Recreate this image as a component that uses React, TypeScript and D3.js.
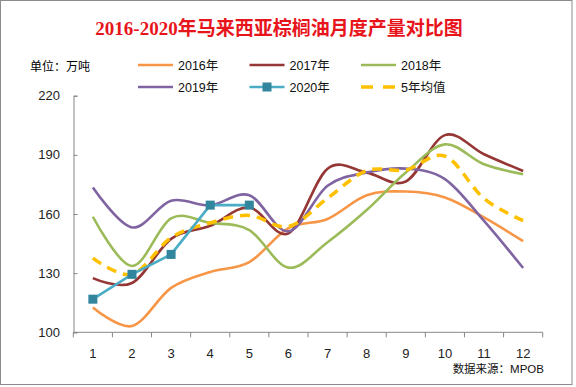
import { useEffect, useRef } from 'react';
import * as d3 from 'd3';

const months = ['1', '2', '3', '4', '5', '6', '7', '8', '9', '10', '11', '12'];
const yTicks = [100, 130, 160, 190, 220];

const y2016 = [112.6, 103.2, 122.5, 130.6, 135.6, 152.8, 157.5, 169.5, 171.4, 168.4, 158.3, 146.2];
const y2017 = [127.5, 125.0, 147.4, 154.0, 163.3, 150.2, 183.0, 181.0, 176.5, 200.0, 190.3, 181.8];
const y2018 = [158.6, 133.6, 157.8, 155.5, 151.8, 132.8, 145.7, 162.0, 181.0, 195.3, 185.2, 180.2];
const y2019 = [173.4, 153.2, 166.7, 164.4, 169.5, 151.2, 174.3, 181.0, 183.0, 177.7, 156.5, 132.6];
const y2020 = [116.8, 129.4, 139.5, 164.5, 164.5];
const yAvg = [137.6, 129.4, 148.0, 155.5, 159.3, 153.6, 168.0, 182.0, 182.3, 189.4, 167.8, 156.6];

const font = '"Liberation Sans", "Noto Sans CJK SC", sans-serif';

export default function App() {
  const svgRef = useRef<SVGSVGElement>(null);

  useEffect(() => {
    if (!svgRef.current) return;
    const svg = d3.select(svgRef.current);
    svg.selectAll('*').remove();

    const x = d3.scaleBand().domain(months).range([73.3, 542.7]);
    const y = d3.scaleLinear().domain([100, 220]).range([332.3, 95.7]);
    const cx = (i: number) => (x(months[i]) as number) + x.bandwidth() / 2;

    // frame
    svg.append('rect')
      .attr('x', 0.5).attr('y', 0.5)
      .attr('width', 571.5).attr('height', 384)
      .attr('fill', '#fff').attr('stroke', '#8c8c8c');

    svg.append('text')
      .attr('x', 279).attr('y', 35)
      .attr('text-anchor', 'middle')
      .style('font-family', '"Liberation Serif", "DejaVu Serif", "Noto Sans CJK SC", serif')
      .style('font-weight', 'bold')
      .style('font-size', '19px')
      .attr('fill', '#e8141b')
      .text('2016-2020年马来西亚棕榈油月度产量对比图');

    svg.append('text')
      .attr('x', 30).attr('y', 71)
      .style('font-family', font).style('font-size', '12px')
      .text('单位：万吨');

    const axisColor = '#868686';

    // y axis
    const yAxis = svg.append('g').attr('transform', 'translate(73.5,0)')
      .call(d3.axisRight(y).tickValues(yTicks).tickSize(4).tickFormat(() => ''));
    yAxis.select('.domain').attr('stroke', axisColor);
    yAxis.selectAll('line').attr('stroke', axisColor);
    svg.append('g').selectAll('text').data(yTicks).enter().append('text')
      .attr('x', 60).attr('y', d => y(d) + 4.5)
      .attr('text-anchor', 'end')
      .style('font-family', font).style('font-size', '13px')
      .attr('fill', '#222')
      .text(d => d);

    // x axis
    const xg = svg.append('g');
    xg.append('line')
      .attr('x1', 73.3).attr('x2', 542.7)
      .attr('y1', y(100)).attr('y2', y(100))
      .attr('stroke', axisColor);
    xg.selectAll('.tick').data(d3.range(13)).enter().append('line')
      .attr('x1', i => 73.3 + i * x.bandwidth()).attr('x2', i => 73.3 + i * x.bandwidth())
      .attr('y1', y(100)).attr('y2', y(100) + 5)
      .attr('stroke', axisColor);
    xg.selectAll('text').data(months).enter().append('text')
      .attr('x', (_d, i) => cx(i)).attr('y', 358)
      .attr('text-anchor', 'middle')
      .style('font-family', font).style('font-size', '13px')
      .attr('fill', '#222')
      .text(d => d);

    const smooth = d3.line<number>()
      .x((_d, i) => cx(i))
      .y(d => y(d))
      .curve(d3.curveCardinal.tension(0));
    const straight = d3.line<number>()
      .x((_d, i) => cx(i))
      .y(d => y(d));

    const series = [
      { name: '2016年', data: y2016, color: '#f79646' },
      { name: '2017年', data: y2017, color: '#953735' },
      { name: '2018年', data: y2018, color: '#9bbb59' },
      { name: '2019年', data: y2019, color: '#8064a2' },
    ];

    series.forEach(s => {
      svg.append('path')
        .datum(s.data)
        .attr('fill', 'none')
        .attr('stroke', s.color)
        .attr('stroke-width', 2.6)
        .attr('d', smooth);
    });

    svg.append('path')
      .datum(yAvg)
      .attr('fill', 'none')
      .attr('stroke', '#ffc000')
      .attr('stroke-width', 3.5)
      .attr('stroke-dasharray', '10 7')
      .attr('d', smooth);

    svg.append('path')
      .datum(y2020)
      .attr('fill', 'none')
      .attr('stroke', '#4bacc6')
      .attr('stroke-width', 2.6)
      .attr('d', straight);
    svg.selectAll('.m2020').data(y2020).enter().append('rect')
      .attr('class', 'm2020')
      .attr('x', (_d, i) => cx(i) - 4.5).attr('y', d => y(d) - 4.5)
      .attr('width', 9).attr('height', 9)
      .attr('fill', '#31859c');

    // legend
    const legendItems = [
      { name: '2016年', color: '#f79646', col: 0, row: 0, type: 'line' },
      { name: '2017年', color: '#953735', col: 1, row: 0, type: 'line' },
      { name: '2018年', color: '#9bbb59', col: 2, row: 0, type: 'line' },
      { name: '2019年', color: '#8064a2', col: 0, row: 1, type: 'line' },
      { name: '2020年', color: '#4bacc6', col: 1, row: 1, type: 'marker' },
      { name: '5年均值', color: '#ffc000', col: 2, row: 1, type: 'dash' },
    ];
    const lg = svg.append('g').selectAll('g').data(legendItems).enter().append('g')
      .attr('transform', d => `translate(${138 + d.col * 111.5},${65 + d.row * 22})`);
    lg.append('line')
      .attr('x1', 0).attr('x2', 35)
      .attr('stroke', d => d.color)
      .attr('stroke-width', d => (d.type === 'dash' ? 3.5 : 2.6))
      .attr('stroke-dasharray', d => (d.type === 'dash' ? '12 10' : null));
    lg.filter(d => d.type === 'marker').append('rect')
      .attr('x', 13).attr('y', -4.5).attr('width', 9).attr('height', 9)
      .attr('fill', '#31859c');
    lg.append('text')
      .attr('x', 40).attr('y', 4.5)
      .style('font-family', font).style('font-size', '12.5px')
      .attr('fill', '#111')
      .text(d => d.name);

    svg.append('text')
      .attr('x', 544).attr('y', 373)
      .attr('text-anchor', 'end')
      .style('font-family', font).style('font-size', '11.5px')
      .attr('fill', '#111')
      .text('数据来源：MPOB');
  }, []);

  return (
    <svg
      ref={svgRef}
      width={576}
      height={387}
      style={{ position: 'absolute', left: 0, top: 0 }}
    ></svg>
  );
}
